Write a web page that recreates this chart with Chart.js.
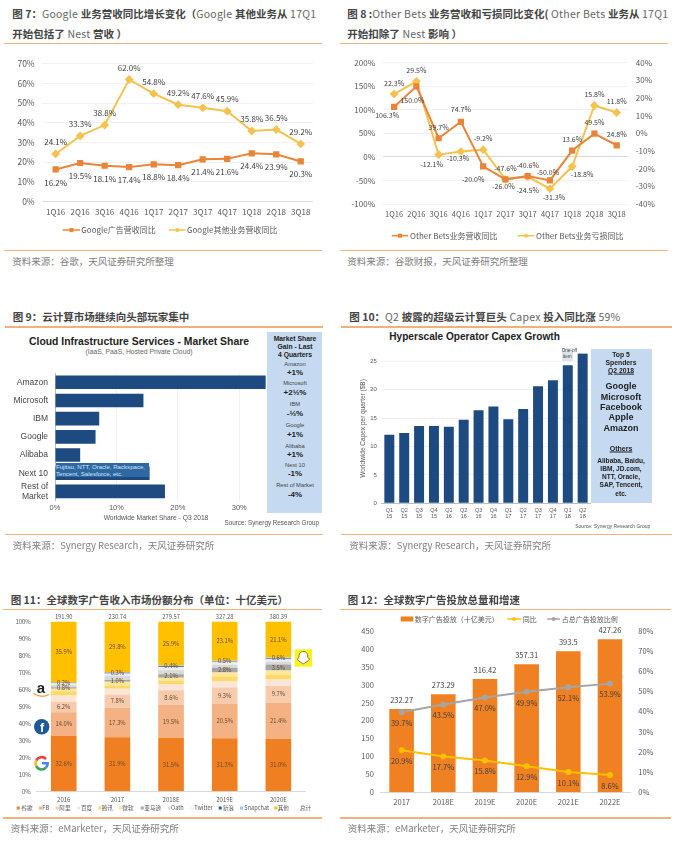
<!DOCTYPE html>
<html>
<head>
<meta charset="utf-8">
<script src="https://cdn.jsdelivr.net/npm/chart.js@4"></script>
<style>
html, body { margin: 0; padding: 0; background: #fff; }
#page { position: relative; width: 683px; height: 842px; overflow: hidden; font-family: "Noto Sans CJK SC", sans-serif; color: #555; }
#page canvas { position: absolute; }
.txt { position: absolute; white-space: nowrap; line-height: 1; }
.title { font-size: 10.5px; color: #666; letter-spacing: .25px; }
.title b { color: #444; font-weight: 700; letter-spacing: 0; }
.source { font-size: 9.5px; color: #808080; }
.rule { position: absolute; height: 1.5px; background: #efb27a; }
.panel { position: absolute; background: #c5d9f1; }
.arial { font-family: "Liberation Sans", sans-serif; }
</style>
</head>
<body>
<div id="page"></div>
<script>
// data
const quarters = ['1Q16', '2Q16', '3Q16', '4Q16', '1Q17', '2Q17', '3Q17', '4Q17', '1Q18', '2Q18', '3Q18'];
const googleAds = [16.2, 19.5, 18.1, 17.4, 18.8, 18.4, 21.4, 21.6, 24.4, 23.9, 20.3];
const googleOther = [24.1, 33.3, 38.8, 62.0, 54.8, 49.2, 47.6, 45.9, 35.8, 36.5, 29.2];
const betsRevenue = [106.3, 150.0, 39.7, 74.7, -20.0, -47.6, -40.6, -50.0, 13.6, 49.5, 24.8];
const betsLoss = [22.3, 29.5, -12.1, -10.3, -9.2, -26.0, -24.5, -31.3, -18.8, 15.8, 11.8];

const cloudVendors = ['Amazon', 'Microsoft', 'IBM', 'Google', 'Alibaba', 'Next 10', ['Rest of', 'Market']];
const cloudShare = [34.3, 14.4, 7.2, 6.6, 4.1, 15.4, 17.9];

const capexQuarters = [['Q1', '15'], ['Q2', '15'], ['Q3', '15'], ['Q4', '15'], ['Q1', '16'], ['Q2', '16'], ['Q3', '16'], ['Q4', '16'], ['Q1', '17'], ['Q2', '17'], ['Q3', '17'], ['Q4', '17'], ['Q1', '18'], ['Q2', '18']];
const capexValues = [12.05, 12.4, 13.6, 13.6, 13.5, 14.7, 16.4, 17.05, 14.8, 16.6, 20.6, 21.65, 24.3, 26.4];

const shareYears = ['2016', '2017', '2018E', '2019E', '2020E'];
const shareTotals = ['191.90', '230.74', '279.57', '327.28', '380.39'];
const shareGoogle = [32.6, 31.9, 31.5, 31.3, 31.0];
const shareFb = [14.0, 17.3, 19.5, 20.5, 21.4];
const shareAli = [6.2, 7.8, 8.6, 9.3, 9.7];
const shareBaidu = [3.7, 3.4, 3.6, 3.7, 3.8];
const shareTencent = [2.4, 1.6, 2.0, 2.8, 2.8];
const shareMicrosoft = [1.6, 2.6, 1.7, 2.4, 2.5];
const shareAmazon = [0.8, 1.0, 2.1, 2.8, 3.5];
const shareOath = [1.4, 2.4, 2.4, 1.8, 1.7];
const shareTwitter = [1.0, 1.4, 1.9, 1.4, 1.4];
const shareSina = [0.2, 0.5, 0.4, 0.4, 0.5];
const shareSnap = [0.2, 0.3, 0.4, 0.5, 0.6];
const shareOther = [35.9, 29.8, 25.9, 23.1, 21.1];

const adYears = ['2017', '2018E', '2019E', '2020E', '2021E', '2022E'];
const adSpend = [232.27, 273.29, 316.42, 357.31, 393.5, 427.26];
const adGrowth = [20.9, 17.7, 15.8, 12.9, 10.1, 8.6];
const adPortion = [39.7, 43.5, 47.0, 49.9, 52.1, 53.9];

const ORANGE = '#e98438', YELLOW = '#f3c24f', CJK = '"Noto Sans CJK SC", sans-serif', ARIAL = '"Liberation Sans", sans-serif';
const page = document.getElementById('page');
const pct = v => v.toFixed(1) + '%';

Chart.defaults.animation = false;
Chart.defaults.font.family = CJK;
Chart.defaults.color = '#595959';
Chart.defaults.plugins.legend.display = false;
Chart.defaults.plugins.tooltip.enabled = false;

function addText(html, x, y, opts = {}) {
  const el = document.createElement('div');
  el.className = 'txt ' + (opts.cls || '');
  el.innerHTML = html;
  el.style.left = x + 'px';
  el.style.top = y + 'px';
  const tx = opts.align === 'center' ? '-50%' : opts.align === 'right' ? '-100%' : '0';
  el.style.transform = `translate(${tx}, -50%)`;
  if (opts.size) el.style.fontSize = opts.size + 'px';
  if (opts.bold) el.style.fontWeight = 700;
  if (opts.color) el.style.color = opts.color;
  if (opts.underline) el.style.textDecoration = 'underline';
  page.appendChild(el);
  return el;
}
function addBox(cls, x, y, w, h) {
  const el = document.createElement('div');
  el.className = cls;
  el.style.cssText = `left:${x}px;top:${y}px;width:${w}px;` + (h ? `height:${h}px;` : '');
  page.appendChild(el);
  return el;
}

// draws the value labels kept on each dataset (offset arrays are per point)
const valueLabels = {
  id: 'valueLabels',
  afterDatasetsDraw(chart) {
    const ctx = chart.ctx;
    chart.data.datasets.forEach((ds, i) => {
      if (!ds.labelFormat) return;
      ctx.save();
      ctx.font = `${ds.labelSize}px ${CJK}`;
      ctx.fillStyle = ds.labelColor || '#404040';
      ctx.textAlign = 'center';
      ctx.textBaseline = 'middle';
      chart.getDatasetMeta(i).data.forEach((el, j) => {
        const p = ds.labelCenter ? el.getCenterPoint() : el;
        const dx = ds.labelDx ? ds.labelDx[j] : 0;
        const dy = Array.isArray(ds.labelDy) ? ds.labelDy[j] : ds.labelDy;
        ctx.fillText(ds.labelFormat(ds.data[j]), p.x + dx, p.y + dy);
      });
      ctx.restore();
    });
  }
};

// legend positioned in page coordinates
function pageLegend(region, y, size, items) {
  return {
    id: 'pageLegend',
    afterDraw(chart) {
      const ctx = chart.ctx;
      ctx.save();
      ctx.font = `${size}px ${CJK}`;
      ctx.textBaseline = 'middle';
      const cy = y - region.y;
      items.forEach(it => {
        const x0 = it.x - region.x;
        if (it.type === 'line') {
          ctx.strokeStyle = it.color;
          ctx.fillStyle = it.color;
          ctx.lineWidth = it.lw || 1.5;
          ctx.beginPath();
          ctx.moveTo(x0, cy);
          ctx.lineTo(x0 + it.w, cy);
          ctx.stroke();
          const mid = x0 + it.w / 2;
          if (it.marker === 'rect') ctx.fillRect(mid - 2, cy - 2, 4, 4);
          else {
            ctx.beginPath();
            ctx.arc(mid, cy, 2, 0, Math.PI * 2);
            ctx.fill();
          }
        } else if (it.type === 'box') {
          ctx.fillStyle = it.color;
          ctx.fillRect(x0, cy - it.h / 2, it.w, it.h);
        }
        ctx.fillStyle = it.textColor || '#595959';
        ctx.fillText(it.text, it.tx - region.x, cy);
      });
      ctx.restore();
    }
  };
}

// region = canvas box on the page, plot = wanted chart area on the page
function makeChart(region, plot, config) {
  const canvas = document.createElement('canvas');
  canvas.width = region.w;
  canvas.height = region.h;
  canvas.style.left = region.x + 'px';
  canvas.style.top = region.y + 'px';
  page.appendChild(canvas);
  const scales = config.options.scales;
  scales.x.afterFit = s => { s.height = region.y + region.h - plot.b; };
  scales.y.afterFit = s => { s.width = plot.l - region.x; };
  if (scales.y1) scales.y1.afterFit = s => { s.width = region.x + region.w - plot.r; };
  config.options.responsive = false;
  config.options.devicePixelRatio = 1;
  config.options.layout = { padding: { left: 0, bottom: 0, top: plot.t - region.y, right: scales.y1 ? 0 : region.x + region.w - plot.r } };
  return new Chart(canvas, config);
}

const noGrid = { display: false, drawTicks: false };
const softGrid = { color: '#f1f1f1', drawTicks: false };
const lineGrid = zero => ({ color: c => c.tick.value === 0 ? zero : '#f1f1f1', drawTicks: false });
function lineSet(label, data, color, shape, extra) {
  return Object.assign({ label, data, borderColor: color, backgroundColor: color, borderWidth: 2, pointStyle: shape, pointRadius: 3, tension: 0, labelFormat: pct }, extra);
}

// ---------- figure 7
addText('<b>图 7：</b>Google <b>业务营收同比增长变化（</b>Google <b>其他业务从</b> 17Q1', 12.3, 13.5, { cls: 'title' });
addText('<b>开始包括了</b> Nest <b>营收 ）</b>', 12.3, 34, { cls: 'title' });
addBox('rule', 4.3, 42.5, 317.4);
makeChart({ x: 0, y: 50, w: 330, h: 195 }, { l: 43.4, t: 60.7, r: 313, b: 201.3 }, {
  type: 'line',
  data: {
    labels: quarters,
    datasets: [
      lineSet('Google广告营收同比', googleAds, ORANGE, 'rect', { labelSize: 8, labelDy: 13 }),
      lineSet('Google其他业务营收同比', googleOther, YELLOW, 'rectRot', { labelSize: 8, labelDy: -12 })
    ]
  },
  options: {
    scales: {
      x: { offset: true, grid: noGrid, border: { display: false }, ticks: { font: { size: 8 }, padding: 6, maxRotation: 0 } },
      y: { min: 0, max: 70, grid: lineGrid('#d9d9d9'), border: { display: false }, ticks: { stepSize: 10, font: { size: 8.5 }, padding: 8.7, callback: v => v + '%' } }
    }
  },
  plugins: [valueLabels, pageLegend({ x: 0, y: 50 }, 230, 8, [
    { type: 'line', x: 62.7, w: 17.5, color: ORANGE, marker: 'rect', text: 'Google广告营收同比', tx: 81.3 },
    { type: 'line', x: 169, w: 16.5, color: YELLOW, marker: 'dot', text: 'Google其他业务营收同比', tx: 187 }
  ])]
});
addBox('rule', 4.3, 249.5, 317.4);
addText('资料来源：谷歌，天风证券研究所整理', 12.3, 261.7, { cls: 'source' });

// ---------- figure 8
addText('<b>图 8 :</b>Other Bets <b>业务营收和亏损同比变化(</b> Other Bets <b>业务从</b> 17Q1', 347.3, 13.5, { cls: 'title' });
addText('<b>开始扣除了</b> Nest <b>影响 ）</b>', 347.3, 34, { cls: 'title' });
addBox('rule', 340, 42.5, 328.3);
makeChart({ x: 340, y: 50, w: 330, h: 195 }, { l: 383, t: 60, r: 627.8, b: 204 }, {
  type: 'line',
  data: {
    labels: quarters,
    datasets: [
      lineSet('Other Bets业务营收同比', betsRevenue, ORANGE, 'rect', {
        yAxisID: 'y', labelSize: 7,
        labelDx: [-7, -4, 0, 0, -10, 0, 0, -2, 0, 0, 0],
        labelDy: [8, 14, -11, -12, 13, -11, -11, -8, -11, -11, -11]
      }),
      lineSet('Other Bets业务亏损同比', betsLoss, YELLOW, 'rectRot', {
        yAxisID: 'y1', labelSize: 7,
        labelDx: [0, 0, -7, -3, 0, -2, 0, 4, 10, 0, 0],
        labelDy: [-11, -11, 10, 7, -11, 7, 14, 9, 8, -11, -11]
      })
    ]
  },
  options: {
    scales: {
      x: { offset: true, grid: noGrid, border: { display: false }, ticks: { font: { size: 7.5 }, padding: 5.5, maxRotation: 0 } },
      y: { min: -100, max: 200, grid: lineGrid('#d9d9d9'), border: { display: false }, ticks: { stepSize: 50, font: { size: 8 }, padding: 8, callback: v => v + '%' } },
      y1: { position: 'right', min: -40, max: 40, grid: noGrid, border: { display: false }, ticks: { stepSize: 10, font: { size: 8 }, padding: 8, callback: v => v + '%' } }
    }
  },
  plugins: [valueLabels, pageLegend({ x: 340, y: 50 }, 235.7, 8, [
    { type: 'line', x: 391.7, w: 16.6, color: ORANGE, marker: 'rect', text: 'Other Bets业务营收同比', tx: 410 },
    { type: 'line', x: 517.7, w: 16.6, color: YELLOW, marker: 'dot', text: 'Other Bets业务亏损同比', tx: 536 }
  ])]
});
addBox('rule', 340, 249.5, 328.3);
addText('资料来源：谷歌财报，天风证券研究所整理', 347.3, 261.7, { cls: 'source' });

// ---------- figure 9
addText('<b>图 9：云计算市场继续向头部玩家集中</b>', 12.7, 317, { cls: 'title' });
addBox('rule', 5, 326, 317.7);
addText('Cloud Infrastructure Services - Market Share', 139, 341.7, { cls: 'arial', size: 10.4, bold: true, align: 'center', color: '#222' });
addText('(IaaS, PaaS, Hosted Private Cloud)', 139, 351.7, { cls: 'arial', size: 6.8, align: 'center', color: '#666' });
makeChart({ x: 0, y: 356, w: 270, h: 170 }, { l: 55, t: 358.2, r: 267.2, b: 500.5 }, {
  type: 'bar',
  data: { labels: cloudVendors, datasets: [{ label: 'Market Share', data: cloudShare, backgroundColor: '#1d4a80', barPercentage: 0.75, categoryPercentage: 1 }] },
  options: {
    indexAxis: 'y',
    scales: {
      x: { min: 0, max: 34.55, grid: softGrid, border: { display: false }, ticks: { stepSize: 10, includeBounds: false, font: { size: 7.5, family: ARIAL }, padding: 3, maxRotation: 0, callback: v => v + '%' } },
      y: { grid: noGrid, border: { color: '#bbb' }, ticks: { autoSkip: false, font: { size: 8.5, family: ARIAL }, padding: 7, color: '#444' } }
    }
  }
});
addText('Worldwide Market Share - Q3 2018', 156, 517.7, { cls: 'arial', size: 6.7, align: 'center', color: '#555' });
addText('Source: Synergy Research Group', 319, 523.3, { cls: 'arial', size: 6.3, align: 'right', color: '#555' });
const fujitsu = addBox('', 56, 463.3, 92.7, 14);
fujitsu.style.cssText += 'position:absolute;background:#2d68a3;color:#d5e4f5;font:6.1px/7px "Liberation Sans",sans-serif;white-space:nowrap;';
fujitsu.innerHTML = 'Fujitsu, NTT, Oracle, Rackspace,<br>Tencent, Salesforce, etc.';
addBox('panel', 267.3, 332.3, 55, 180.4);
[['Market Share', 338.7, 6.8, 1], ['Gain - Last', 347.3, 6.8, 1], ['4 Quarters', 355.3, 6.8, 1],
 ['Amazon', 364.7, 5.8, 0], ['+1%', 372.7, 8, 1], ['Microsoft', 384.3, 5.8, 0], ['+2½%', 393, 8, 1],
 ['IBM', 405.3, 5.8, 0], ['-½%', 414, 8, 1], ['Google', 426, 5.8, 0], ['+1%', 434.7, 8, 1],
 ['Alibaba', 446.7, 5.8, 0], ['+1%', 455.3, 8, 1], ['Next 10', 466, 5.8, 0], ['-1%', 474, 8, 1],
 ['Rest of Market', 486.3, 5.8, 0], ['-4%', 494.7, 8, 1]
].forEach(l => addText(l[0], 295, l[1], { cls: 'arial', size: l[2], bold: !!l[3], align: 'center', color: l[3] ? '#222' : '#444' }));
addBox('rule', 5, 533.5, 317.7);
addText('资料来源：Synergy Research，天风证券研究所', 12.7, 546, { cls: 'source' });

// ---------- figure 10
addText('<b>图 10：</b>Q2 <b>披露的超级云计算巨头</b> Capex <b>投入同比涨</b> 59%', 349.3, 317.3, { cls: 'title' });
addBox('rule', 341, 326, 330.7);
addText('Hyperscale Operator Capex Growth', 389.3, 337.3, { cls: 'arial', size: 10.1, bold: true, color: '#222' });
makeChart({ x: 359, y: 345, w: 232, h: 178 }, { l: 381.9, t: 348.7, r: 590.1, b: 503.3 }, {
  type: 'bar',
  data: { labels: capexQuarters, datasets: [{ label: 'Capex', data: capexValues, backgroundColor: '#1d4a80', barPercentage: 0.67, categoryPercentage: 1 }] },
  options: {
    scales: {
      x: { grid: noGrid, border: { color: '#bfbfbf' }, ticks: { font: { size: 5.5, family: ARIAL }, padding: 3.5, maxRotation: 0, autoSkip: false } },
      y: {
        min: 0, max: 26.36, grid: softGrid, border: { display: false },
        title: { display: true, text: 'Worldwide Capex per quarter ($B)', font: { size: 6.5, family: ARIAL }, padding: 0, color: '#595959' },
        ticks: { stepSize: 5, includeBounds: false, font: { size: 6, family: ARIAL }, padding: 5 }
      }
    }
  }
});
const oneOff = addBox('', 561.7, 347.5, 11, 13);
oneOff.style.cssText += 'position:absolute;background:#dde3ea;color:#444;font:4.6px/6px "Liberation Sans",sans-serif;text-align:center;white-space:nowrap;';
oneOff.innerHTML = 'One-off<br>item';
addBox('panel', 590.7, 349, 61.3, 154.3);
[['Top 5', 355, 6.8, 0], ['Spenders', 362.7, 6.8, 0], ['Q2 2018', 370.7, 6.8, 1],
 ['Google', 386, 9, 0], ['Microsoft', 396.7, 9, 0], ['Facebook', 406.7, 9, 0], ['Apple', 417.3, 9, 0], ['Amazon', 428, 9, 0],
 ['Others', 448.3, 7, 1], ['Alibaba, Baidu,', 461, 6.6, 0], ['IBM, JD.com,', 469.3, 6.6, 0], ['NTT, Oracle,', 477.3, 6.6, 0], ['SAP, Tencent,', 485.3, 6.6, 0], ['etc.', 493.7, 6.6, 0]
].forEach(l => addText(l[0], 621, l[1], { cls: 'arial', size: l[2], bold: true, align: 'center', color: '#222', underline: !!l[3] }));
addText('Source: Synergy Research Group', 650.3, 525.7, { cls: 'arial', size: 5, align: 'right', color: '#555' });
addBox('rule', 341, 533.5, 330.7);
addText('资料来源：Synergy Research，天风证券研究所', 349.3, 546, { cls: 'source' });

// ---------- figure 11
addText('<b>图 11：全球数字广告收入市场份额分布（单位：十亿美元）</b>', 10.7, 600, { cls: 'title' });
addBox('rule', 3.3, 608.7, 318.4);
const shareLabel = { labelCenter: true, labelSize: 5.8, labelDy: 0, labelColor: '#6b4a2a', labelFormat: pct };
const stackSet = (label, data, color, extra) => Object.assign({ label, data, backgroundColor: color, barPercentage: 0.478, categoryPercentage: 1 }, extra);
const totalsOnTop = {
  id: 'totalsOnTop',
  afterDraw(chart) {
    const ctx = chart.ctx;
    ctx.save();
    ctx.font = `5.8px ${CJK}`;
    ctx.fillStyle = '#595959';
    ctx.textAlign = 'center';
    ctx.textBaseline = 'middle';
    shareTotals.forEach((t, i) => ctx.fillText(t, chart.scales.x.getPixelForTick(i), chart.chartArea.top - 5.3));
    ctx.restore();
  }
};
const shareColors = ['#f07f22', '#f4b183', '#f8cbad', '#fbe5d6', '#ffd966', '#ffe699', '#a6a6a6', '#d9d9d9', '#ededed', '#255e91', '#9dc3e6', '#ffc000'];
const shareNames = ['谷歌', 'FB', '阿里', '百度', '腾讯', '微软', '亚马逊', 'Oath', 'Twitter', '新浪', 'Snapchat', '其他'];
const legendMarks = [16.7, 39, 55.7, 77.3, 98.3, 119, 140.7, 167.7, 190.7, 218.7, 240, 274.3];
const legendTexts = [21.3, 42.3, 59.3, 81, 101.7, 122.3, 144.3, 171, 194.3, 222.7, 244.3, 277.7];
const shareLegend = shareNames.map((n, i) => ({ type: 'box', x: legendMarks[i], w: 3, h: 3, color: shareColors[i], text: n, tx: legendTexts[i] }));
shareLegend.push({ text: '总计', x: 300, tx: 300 });
const c11 = { x: 0, y: 612, w: 330, h: 203 };
makeChart(c11, { l: 36.9, t: 621, r: 305.2, b: 791.3 }, {
  type: 'bar',
  data: {
    labels: shareYears,
    datasets: [
      stackSet('谷歌', shareGoogle, shareColors[0], shareLabel),
      stackSet('FB', shareFb, shareColors[1], shareLabel),
      stackSet('阿里', shareAli, shareColors[2], shareLabel),
      stackSet('百度', shareBaidu, shareColors[3]),
      stackSet('腾讯', shareTencent, shareColors[4]),
      stackSet('微软', shareMicrosoft, shareColors[5]),
      stackSet('亚马逊', shareAmazon, shareColors[6], shareLabel),
      stackSet('Oath', shareOath, shareColors[7]),
      stackSet('Twitter', shareTwitter, shareColors[8]),
      stackSet('新浪', shareSina, shareColors[9]),
      stackSet('Snapchat', shareSnap, shareColors[10], shareLabel),
      stackSet('其他', shareOther, shareColors[11], shareLabel)
    ]
  },
  options: {
    scales: {
      x: { stacked: true, grid: noGrid, border: { color: '#d9d9d9' }, ticks: { font: { size: 6 }, padding: 5, maxRotation: 0 } },
      y: { stacked: true, min: 0, max: 100, grid: noGrid, border: { display: false }, ticks: { stepSize: 10, font: { size: 6 }, padding: 6, callback: v => v + '%' } }
    }
  },
  plugins: [valueLabels, totalsOnTop, pageLegend(c11, 808, 5.6, shareLegend)]
});
// brand marks next to the bars
const logos = document.createElementNS('http://www.w3.org/2000/svg', 'svg');
logos.setAttribute('width', 683);
logos.setAttribute('height', 842);
logos.style.cssText = 'position:absolute;left:0;top:0;';
logos.innerHTML = `
  <text x="41" y="692.5" text-anchor="middle" font-family="Liberation Sans" font-weight="700" font-size="15" fill="#222">a</text>
  <path d="M33.5 693.5 Q41 698.5 49 694.5" fill="none" stroke="#f0a03c" stroke-width="1.2"/>
  <circle cx="41.7" cy="726.7" r="7.7" fill="#1d5a9c"/>
  <text x="42" y="732" text-anchor="middle" font-family="Liberation Sans" font-weight="700" font-size="12.5" fill="#fff">f</text>
  <g fill="none" stroke-width="2.6">
    <path d="M46 759 A6 6 0 0 0 36.3 760.5" stroke="#e5443a"/>
    <path d="M36.3 760.5 A6 6 0 0 0 36.3 766.1" stroke="#f6bb2a"/>
    <path d="M36.3 766.1 A6 6 0 0 0 46 767.6" stroke="#3aa757"/>
    <path d="M46 767.6 A6 6 0 0 0 47.7 763.3 H42" stroke="#4285f4"/>
  </g>
  <rect x="294.7" y="649.3" width="17.3" height="17.4" fill="#fdf21c"/>
  <path d="M303.3 651.5 C299.8 651.5 299 654 299 657 C299 658.5 297.5 658.5 297 659.2 C298 660.5 299.5 660.5 299.8 662 C301 661.8 302 663.8 303.3 663.8 C304.7 663.8 305.6 661.8 306.9 662 C307.2 660.5 308.7 660.5 309.7 659.2 C309.2 658.5 307.7 658.5 307.7 657 C307.7 654 306.9 651.5 303.3 651.5 Z" fill="#fff" stroke="#333" stroke-width=".6"/>`;
page.appendChild(logos);
addBox('rule', 3.3, 817.2, 318.4);
addText('资料来源：eMarketer，天风证券研究所', 10.7, 829.3, { cls: 'source' });

// ---------- figure 12
addText('<b>图 12：全球数字广告投放总量和增速</b>', 347.7, 600, { cls: 'title' });
addBox('rule', 340, 608.7, 331);
const c12 = { x: 340, y: 612, w: 330, h: 200 };
makeChart(c12, { l: 380.8, t: 631, r: 630.8, b: 792.3 }, {
  data: {
    labels: adYears,
    datasets: [
      lineSet('同比', adGrowth, '#ffc000', 'circle', { type: 'line', yAxisID: 'y1', order: 1, pointRadius: 2, labelSize: 7.5, labelDy: 11 }),
      lineSet('占总广告投放比例', adPortion, '#a5a5a5', 'circle', { type: 'line', yAxisID: 'y1', order: 1, pointRadius: 2, labelSize: 7.5, labelDy: 11 }),
      { type: 'bar', label: '数字广告投放（十亿美元）', data: adSpend, yAxisID: 'y', order: 2, backgroundColor: '#ef8122', barPercentage: 0.59, categoryPercentage: 1, labelFormat: v => String(v), labelSize: 7.5, labelDy: -8.7 }
    ]
  },
  options: {
    scales: {
      x: { type: 'category', offset: true, grid: noGrid, border: { color: '#d9d9d9' }, ticks: { font: { size: 7.5 }, padding: 5, maxRotation: 0 } },
      y: { min: 0, max: 450, grid: noGrid, border: { display: false }, ticks: { stepSize: 50, font: { size: 7.5 }, padding: 7 } },
      y1: { position: 'right', min: 0, max: 80, grid: noGrid, border: { display: false }, ticks: { stepSize: 10, font: { size: 7.5 }, padding: 7.5, callback: v => v + '%' } }
    }
  },
  plugins: [valueLabels, pageLegend(c12, 619, 7, [
    { type: 'box', x: 400.7, w: 12.6, h: 5, color: '#ef8122', text: '数字广告投放（十亿美元）', tx: 414.7 },
    { type: 'line', x: 507.3, w: 13.7, color: '#ffc000', marker: 'dot', text: '同比', tx: 522.7 },
    { type: 'line', x: 547.3, w: 12.7, color: '#a5a5a5', marker: 'dot', text: '占总广告投放比例', tx: 561.7 }
  ])]
});
addBox('rule', 340, 817.2, 331);
addText('资料来源：eMarketer，天风证券研究所', 347.7, 829.3, { cls: 'source' });
</script>
</body>
</html>
